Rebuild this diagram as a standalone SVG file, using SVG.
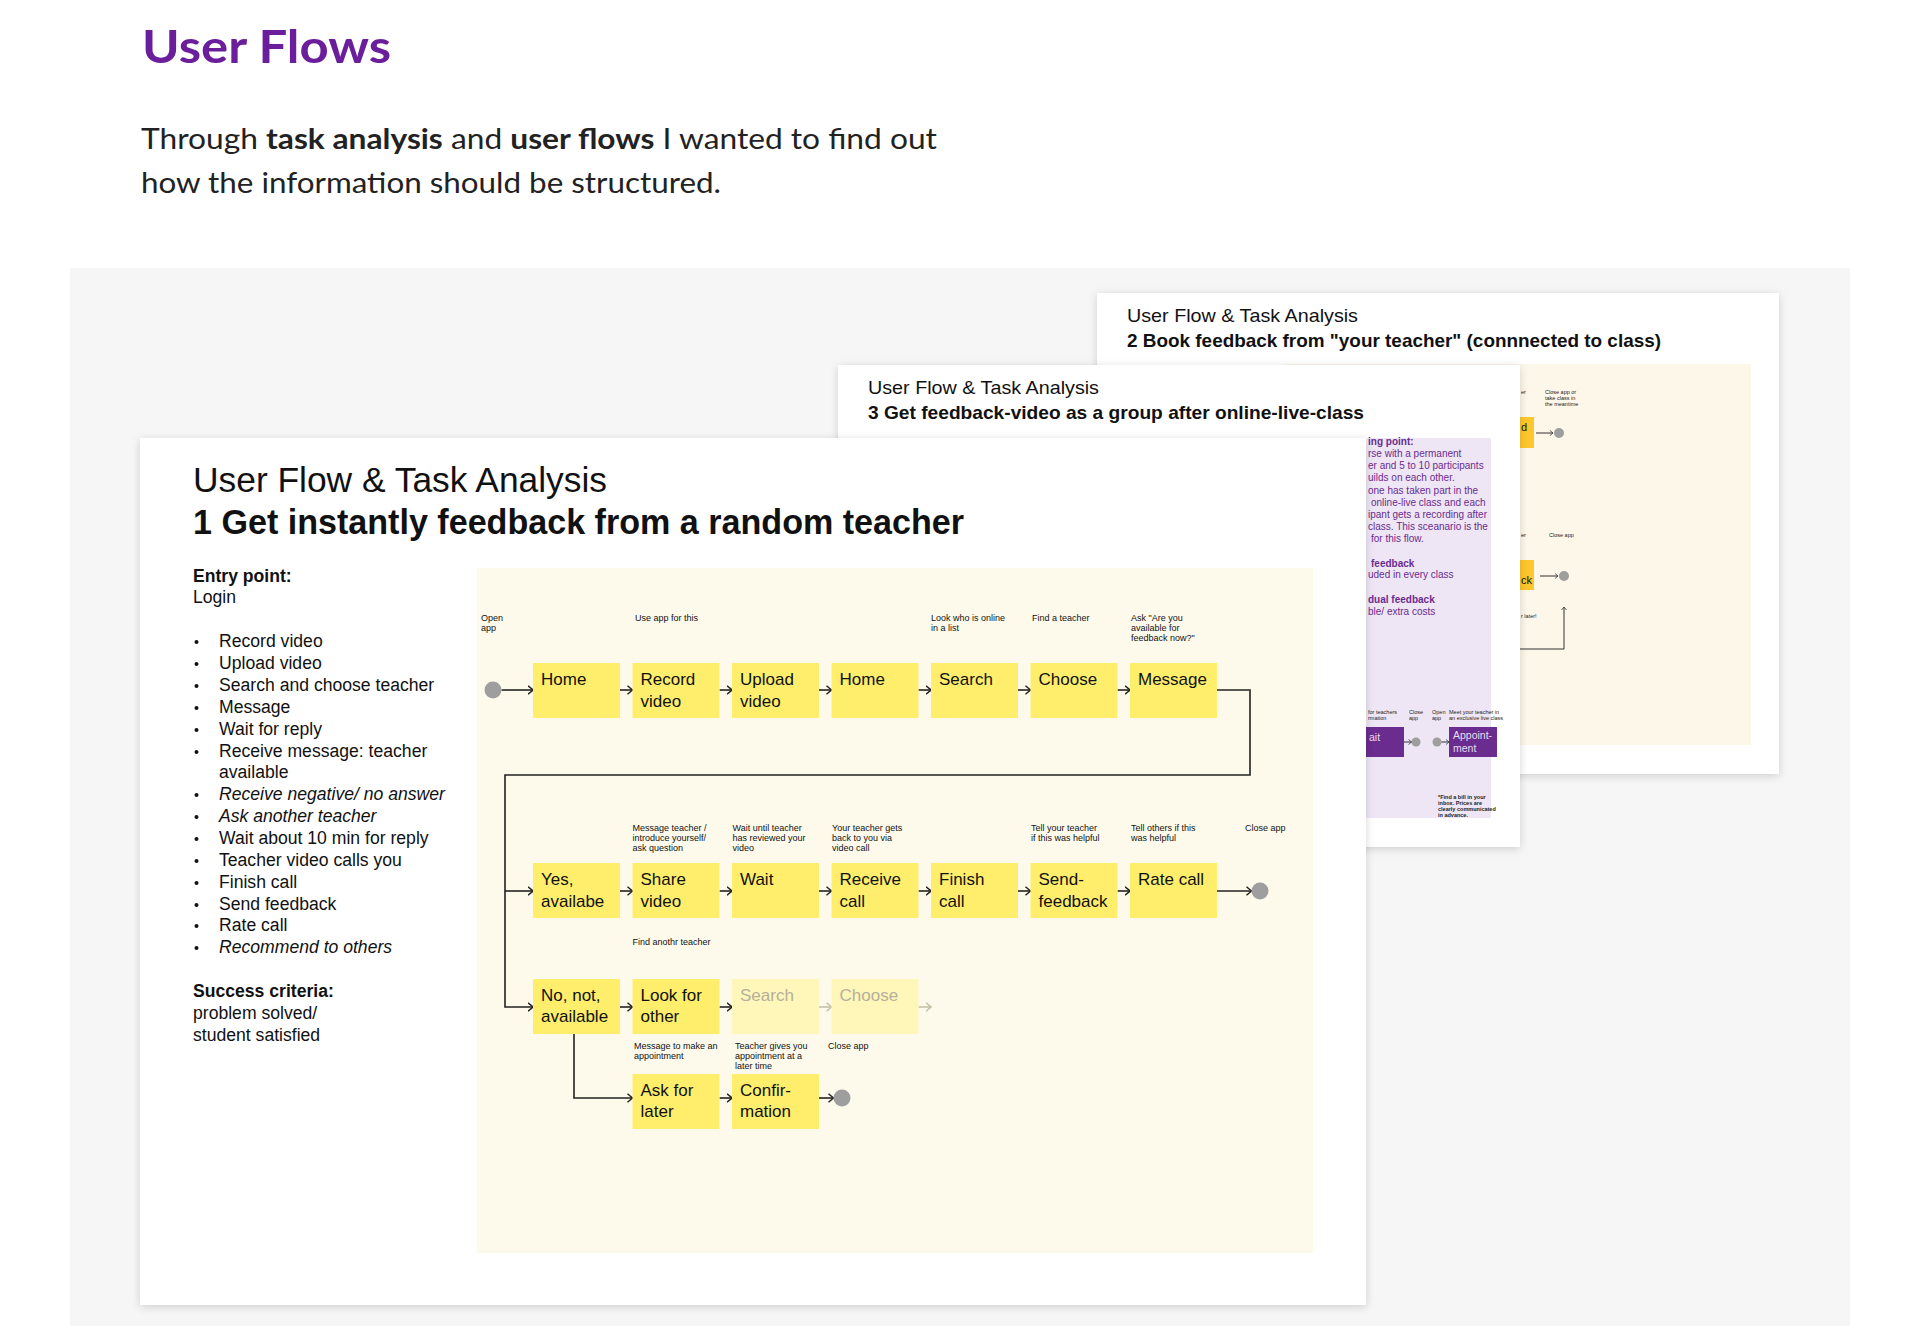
<svg xmlns="http://www.w3.org/2000/svg" width="1920" height="1326" viewBox="0 0 1920 1326">
<defs>
<style>
.h1{font-family:Lato,"Open Sans",sans-serif;font-weight:700;font-size:46px;fill:#6B1E9C}
.p{font-family:Lato,"Open Sans",sans-serif;font-size:29px;fill:#222}
.b{font-weight:700}
.ct{font-family:"Liberation Sans",Arial,sans-serif;fill:#111}
.box{fill:#FFEE6B}
.boxf{fill:#FFF6BA}
.bt{font-family:"Liberation Sans",Arial,sans-serif;font-size:17px;fill:#111}
.bf{fill:#B5B09A}
.lb{font-family:"Liberation Sans",Arial,sans-serif;font-size:9px;fill:#111}
.li{font-family:"Liberation Sans",Arial,sans-serif;font-size:17.6px;fill:#111}
.it{font-style:italic}
.dot{fill:#9E9E9E}
.con{fill:none;stroke:#222;stroke-width:1.6}
.conf{fill:none;stroke:#C4C0A8;stroke-width:1.6}
.cons{fill:none;stroke:#333;stroke-width:1}
.lv{font-family:"Liberation Sans",Arial,sans-serif;font-size:10px;fill:#6A2C8F}
.tiny{font-family:"Liberation Sans",Arial,sans-serif;font-size:5.5px;fill:#222}
.card{fill:#fff;filter:url(#sh)}
</style>
<filter id="sh" x="-5%" y="-5%" width="110%" height="115%"><feDropShadow dx="0" dy="2" stdDeviation="4" flood-color="#000" flood-opacity="0.16"/></filter>
<marker id="ah" viewBox="0 0 6 10" refX="5.5" refY="5" markerWidth="6" markerHeight="10" markerUnits="userSpaceOnUse" orient="auto"><path d="M0.5,0.8 L5.5,5 L0.5,9.2" fill="none" stroke="#222" stroke-width="1.5"/></marker>
<marker id="ahf" viewBox="0 0 6 10" refX="5.5" refY="5" markerWidth="6" markerHeight="10" markerUnits="userSpaceOnUse" orient="auto"><path d="M0.5,0.8 L5.5,5 L0.5,9.2" fill="none" stroke="#C4C0A8" stroke-width="1.5"/></marker>
<marker id="ahs" viewBox="0 0 6 10" refX="5.5" refY="5" markerWidth="4" markerHeight="6" markerUnits="userSpaceOnUse" orient="auto"><path d="M0.5,0.8 L5.5,5 L0.5,9.2" fill="none" stroke="#333" stroke-width="1.3"/></marker>
</defs>

<rect width="1920" height="1326" fill="#fff"/>

<g id="header">
<text class="h1" x="142" y="63" textLength="249" lengthAdjust="spacingAndGlyphs">User Flows</text>
<text class="p" x="141" y="149" textLength="796" lengthAdjust="spacingAndGlyphs">Through <tspan class="b">task analysis</tspan> and <tspan class="b">user flows</tspan> I wanted to find out</text>
<text class="p" x="141" y="193" textLength="580" lengthAdjust="spacingAndGlyphs">how the information should be structured.</text>
</g>

<rect id="panel" x="70" y="268" width="1780" height="1058" fill="#F6F6F6"/>

<!-- Card 2 (back) -->
<g id="card2">
<rect class="card" x="1097" y="293" width="682" height="481"/>
<text class="ct" x="1127" y="322" font-size="19" textLength="231" lengthAdjust="spacingAndGlyphs">User Flow &amp; Task Analysis</text>
<text class="ct" x="1127" y="347" font-size="19" font-weight="700" textLength="534" lengthAdjust="spacingAndGlyphs">2 Book feedback from "your teacher" (connnected to class)</text>
<rect x="1285" y="364" width="466" height="381" fill="#FDF7EA"/>
<text class="tiny" x="1521" y="394" font-size="6">er</text>
<text class="tiny" x="1545" y="394" font-size="6">Close app or</text>
<text class="tiny" x="1545" y="400" font-size="6">take class in</text>
<text class="tiny" x="1545" y="406" font-size="6">the meantime</text>
<rect x="1480" y="417" width="54" height="31" fill="#FFC72C"/>
<text class="ct" x="1521" y="431" font-size="11">d</text>
<circle class="dot" cx="1559" cy="433" r="5"/>
<text class="tiny" x="1521" y="537" font-size="6">er</text>
<text class="tiny" x="1549" y="537" font-size="6">Close app</text>
<rect x="1480" y="560" width="54" height="30" fill="#FFC72C"/>
<text class="ct" x="1521" y="584" font-size="11">ck</text>
<circle class="dot" cx="1564" cy="576" r="5"/>
<text class="tiny" x="1521" y="618" font-size="6">r later!</text>
<path class="cons" d="M1536,433 H1553" marker-end="url(#ahs)"/>
<path class="cons" d="M1540,576 H1558" marker-end="url(#ahs)"/>
<path class="cons" d="M1500,649 H1564 V607" marker-end="url(#ahs)"/>
</g>

<!-- Card 3 (middle) -->
<g id="card3">
<rect class="card" x="838" y="365" width="682" height="482"/>
<text class="ct" x="868" y="394" font-size="19" textLength="231" lengthAdjust="spacingAndGlyphs">User Flow &amp; Task Analysis</text>
<text class="ct" x="868" y="419" font-size="19" font-weight="700" textLength="496" lengthAdjust="spacingAndGlyphs">3 Get feedback-video as a group after online-live-class</text>
<rect x="1300" y="438" width="191" height="380" fill="#EEE6F4"/>
<text class="lv" x="1368" y="445" font-weight="700">ing point:</text>
<text class="lv" x="1368" y="457">rse with a permanent</text>
<text class="lv" x="1368" y="469">er and 5 to 10 participants</text>
<text class="lv" x="1368" y="481">uilds on each other.</text>
<text class="lv" x="1368" y="494">one has taken part in the</text>
<text class="lv" x="1371" y="506">online-live class and each</text>
<text class="lv" x="1368" y="518">ipant gets a recording after</text>
<text class="lv" x="1368" y="530">class. This sceanario is the</text>
<text class="lv" x="1371" y="542">for this flow.</text>
<text class="lv" x="1371" y="567" font-weight="700">feedback</text>
<text class="lv" x="1368" y="578">uded in every class</text>
<text class="lv" x="1368" y="603" font-weight="700">dual feedback</text>
<text class="lv" x="1368" y="615">ble/ extra costs</text>
<text class="tiny" x="1368" y="714">for teachers</text>
<text class="tiny" x="1368" y="720">rmation</text>
<text class="tiny" x="1409" y="714">Close</text>
<text class="tiny" x="1409" y="720">app</text>
<text class="tiny" x="1432" y="714">Open</text>
<text class="tiny" x="1432" y="720">app</text>
<text class="tiny" x="1449" y="714">Meet your teacher in</text>
<text class="tiny" x="1449" y="720">an exclusive live class</text>
<rect x="1330" y="727" width="74" height="30" fill="#6A2C8F"/>
<text class="ct" x="1369" y="741" font-size="10.5" style="fill:#E9DDF2">ait</text>
<circle class="dot" cx="1416" cy="742" r="4.5"/>
<circle class="dot" cx="1437" cy="742" r="4.5"/>
<rect x="1449" y="727" width="48" height="30" fill="#6A2C8F"/>
<text class="ct" x="1453" y="739" font-size="10.5" style="fill:#E9DDF2">Appoint-</text>
<text class="ct" x="1453" y="752" font-size="10.5" style="fill:#E9DDF2">ment</text>
<path class="cons" d="M1404,742 H1411.5" marker-end="url(#ahs)"/>
<path class="cons" d="M1441.5,742 H1449" marker-end="url(#ahs)"/>
<text class="tiny" x="1438" y="799" font-weight="700">*Find a bill in your</text>
<text class="tiny" x="1438" y="805" font-weight="700">inbox. Prices are</text>
<text class="tiny" x="1438" y="811" font-weight="700">clearly communicated</text>
<text class="tiny" x="1438" y="817" font-weight="700">in advance.</text>
</g>

<!-- Card 1 (front) -->
<g id="card1">
<rect class="card" x="140" y="438" width="1226" height="867"/>
<text class="ct" x="193" y="492" font-size="35" textLength="414" lengthAdjust="spacingAndGlyphs">User Flow &amp; Task Analysis</text>
<text class="ct" x="193" y="534" font-size="34.5" font-weight="700" textLength="771" lengthAdjust="spacingAndGlyphs">1 Get instantly feedback from a random teacher</text>
</g>

<g id="task-list">
<text class="li" x="193" y="582" font-weight="700">Entry point:</text>
<text class="li" x="193" y="603">Login</text>
<g fill="#111">
<circle cx="196.5" cy="642" r="2"/><circle cx="196.5" cy="664" r="2"/><circle cx="196.5" cy="686" r="2"/><circle cx="196.5" cy="708" r="2"/><circle cx="196.5" cy="730" r="2"/><circle cx="196.5" cy="752" r="2"/><circle cx="196.5" cy="795" r="2"/><circle cx="196.5" cy="817" r="2"/><circle cx="196.5" cy="839" r="2"/><circle cx="196.5" cy="861" r="2"/><circle cx="196.5" cy="883" r="2"/><circle cx="196.5" cy="905" r="2"/><circle cx="196.5" cy="926" r="2"/><circle cx="196.5" cy="948" r="2"/>
</g>
<text class="li" x="219" y="647">Record video</text>
<text class="li" x="219" y="669">Upload video</text>
<text class="li" x="219" y="691">Search and choose teacher</text>
<text class="li" x="219" y="713">Message</text>
<text class="li" x="219" y="735">Wait for reply</text>
<text class="li" x="219" y="757">Receive message: teacher</text>
<text class="li" x="219" y="778">available</text>
<text class="li it" x="219" y="800">Receive negative/ no answer</text>
<text class="li it" x="219" y="822">Ask another teacher</text>
<text class="li" x="219" y="844">Wait about 10 min for reply</text>
<text class="li" x="219" y="866">Teacher video calls you</text>
<text class="li" x="219" y="888">Finish call</text>
<text class="li" x="219" y="910">Send feedback</text>
<text class="li" x="219" y="931">Rate call</text>
<text class="li it" x="219" y="953">Recommend to others</text>
<text class="li" x="193" y="997" font-weight="700">Success criteria:</text>
<text class="li" x="193" y="1019">problem solved/</text>
<text class="li" x="193" y="1041">student satisfied</text>
</g>

<rect id="flow-area" x="477" y="568" width="836" height="685" fill="#FDFAEC"/>

<g id="labels">
<text class="lb" x="481" y="621">Open</text><text class="lb" x="481" y="631">app</text>
<text class="lb" x="635" y="621">Use app for this</text>
<text class="lb" x="931" y="621">Look who is online</text><text class="lb" x="931" y="631">in a list</text>
<text class="lb" x="1032" y="621">Find a teacher</text>
<text class="lb" x="1131" y="621">Ask "Are you</text><text class="lb" x="1131" y="631">available for</text><text class="lb" x="1131" y="641">feedback now?"</text>
<text class="lb" x="632.5" y="831">Message teacher /</text><text class="lb" x="632.5" y="841">introduce yourself/</text><text class="lb" x="632.5" y="851">ask question</text>
<text class="lb" x="732.5" y="831">Wait until teacher</text><text class="lb" x="732.5" y="841">has reviewed your</text><text class="lb" x="732.5" y="851">video</text>
<text class="lb" x="832" y="831">Your teacher gets</text><text class="lb" x="832" y="841">back to you via</text><text class="lb" x="832" y="851">video call</text>
<text class="lb" x="1031" y="831">Tell your teacher</text><text class="lb" x="1031" y="841">if this was helpful</text>
<text class="lb" x="1131" y="831">Tell others if this</text><text class="lb" x="1131" y="841">was helpful</text>
<text class="lb" x="1245" y="831">Close app</text>
<text class="lb" x="632.5" y="945">Find anothr teacher</text>
<text class="lb" x="634" y="1049">Message to make an</text><text class="lb" x="634" y="1059">appointment</text>
<text class="lb" x="735" y="1049">Teacher gives you</text><text class="lb" x="735" y="1059">appointment at a</text><text class="lb" x="735" y="1069">later time</text>
<text class="lb" x="828" y="1049">Close app</text>
</g>

<g id="connectors">
<path class="con" d="M501.5,690 H533" marker-end="url(#ah)"/>
<path class="con" d="M620,690 H632.5" marker-end="url(#ah)"/>
<path class="con" d="M719.5,690 H732" marker-end="url(#ah)"/>
<path class="con" d="M819,690 H831.5" marker-end="url(#ah)"/>
<path class="con" d="M918.5,690 H931" marker-end="url(#ah)"/>
<path class="con" d="M1018,690 H1030.5" marker-end="url(#ah)"/>
<path class="con" d="M1117.5,690 H1130" marker-end="url(#ah)"/>
<path class="con" d="M1217,690 H1250 V775 H505 V1007 H533" marker-end="url(#ah)"/>
<path class="con" d="M505,891 H533" marker-end="url(#ah)"/>
<path class="con" d="M620,891 H632.5" marker-end="url(#ah)"/>
<path class="con" d="M719.5,891 H732" marker-end="url(#ah)"/>
<path class="con" d="M819,891 H831.5" marker-end="url(#ah)"/>
<path class="con" d="M918.5,891 H931" marker-end="url(#ah)"/>
<path class="con" d="M1018,891 H1030.5" marker-end="url(#ah)"/>
<path class="con" d="M1117.5,891 H1130" marker-end="url(#ah)"/>
<path class="con" d="M1217,891 H1251.5" marker-end="url(#ah)"/>
<path class="con" d="M620,1007 H632.5" marker-end="url(#ah)"/>
<path class="con" d="M719.5,1007 H732" marker-end="url(#ah)"/>
<path class="conf" d="M819,1007 H831.5" marker-end="url(#ahf)"/>
<path class="conf" d="M918.5,1007 H931" marker-end="url(#ahf)"/>
<path class="con" d="M574,1033 V1098 H632.5" marker-end="url(#ah)"/>
<path class="con" d="M719.5,1098 H732" marker-end="url(#ah)"/>
<path class="con" d="M819,1098 H833.5" marker-end="url(#ah)"/>
</g>

<g id="start"><circle class="dot" cx="493" cy="690" r="8.5"/></g>
<g id="n-home1"><rect class="box" x="533" y="663" width="87" height="55"/><text class="bt" x="541" y="685">Home</text></g>
<g id="n-record"><rect class="box" x="632.5" y="663" width="87" height="55"/><text class="bt" x="640.5" y="685">Record</text><text class="bt" x="640.5" y="707">video</text></g>
<g id="n-upload"><rect class="box" x="732" y="663" width="87" height="55"/><text class="bt" x="740" y="685">Upload</text><text class="bt" x="740" y="707">video</text></g>
<g id="n-home2"><rect class="box" x="831.5" y="663" width="87" height="55"/><text class="bt" x="839.5" y="685">Home</text></g>
<g id="n-search"><rect class="box" x="931" y="663" width="87" height="55"/><text class="bt" x="939" y="685">Search</text></g>
<g id="n-choose"><rect class="box" x="1030.5" y="663" width="87" height="55"/><text class="bt" x="1038.5" y="685">Choose</text></g>
<g id="n-message"><rect class="box" x="1130" y="663" width="87" height="55"/><text class="bt" x="1138" y="685">Message</text></g>

<g id="n-yes"><rect class="box" x="533" y="863" width="87" height="55"/><text class="bt" x="541" y="885">Yes,</text><text class="bt" x="541" y="907">availabe</text></g>
<g id="n-share"><rect class="box" x="632.5" y="863" width="87" height="55"/><text class="bt" x="640.5" y="885">Share</text><text class="bt" x="640.5" y="907">video</text></g>
<g id="n-wait"><rect class="box" x="732" y="863" width="87" height="55"/><text class="bt" x="740" y="885">Wait</text></g>
<g id="n-receive"><rect class="box" x="831.5" y="863" width="87" height="55"/><text class="bt" x="839.5" y="885">Receive</text><text class="bt" x="839.5" y="907">call</text></g>
<g id="n-finish"><rect class="box" x="931" y="863" width="87" height="55"/><text class="bt" x="939" y="885">Finish</text><text class="bt" x="939" y="907">call</text></g>
<g id="n-send"><rect class="box" x="1030.5" y="863" width="87" height="55"/><text class="bt" x="1038.5" y="885">Send-</text><text class="bt" x="1038.5" y="907">feedback</text></g>
<g id="n-rate"><rect class="box" x="1130" y="863" width="87" height="55"/><text class="bt" x="1138" y="885">Rate call</text></g>
<g id="end1"><circle class="dot" cx="1260" cy="891" r="8.5"/></g>

<g id="n-no"><rect class="box" x="533" y="979" width="87" height="55"/><text class="bt" x="541" y="1001">No, not,</text><text class="bt" x="541" y="1022">available</text></g>
<g id="n-look"><rect class="box" x="632.5" y="979" width="87" height="55"/><text class="bt" x="640.5" y="1001">Look for</text><text class="bt" x="640.5" y="1022">other</text></g>
<g id="n-search2"><rect class="boxf" x="732" y="979" width="87" height="55"/><text class="bt bf" x="740" y="1001">Search</text></g>
<g id="n-choose2"><rect class="boxf" x="831.5" y="979" width="87" height="55"/><text class="bt bf" x="839.5" y="1001">Choose</text></g>

<g id="n-ask"><rect class="box" x="632.5" y="1074" width="87" height="55"/><text class="bt" x="640.5" y="1096">Ask for</text><text class="bt" x="640.5" y="1117">later</text></g>
<g id="n-confirm"><rect class="box" x="732" y="1074" width="87" height="55"/><text class="bt" x="740" y="1096">Confir-</text><text class="bt" x="740" y="1117">mation</text></g>
<g id="end2"><circle class="dot" cx="842" cy="1098" r="8.5"/></g>
</svg>
